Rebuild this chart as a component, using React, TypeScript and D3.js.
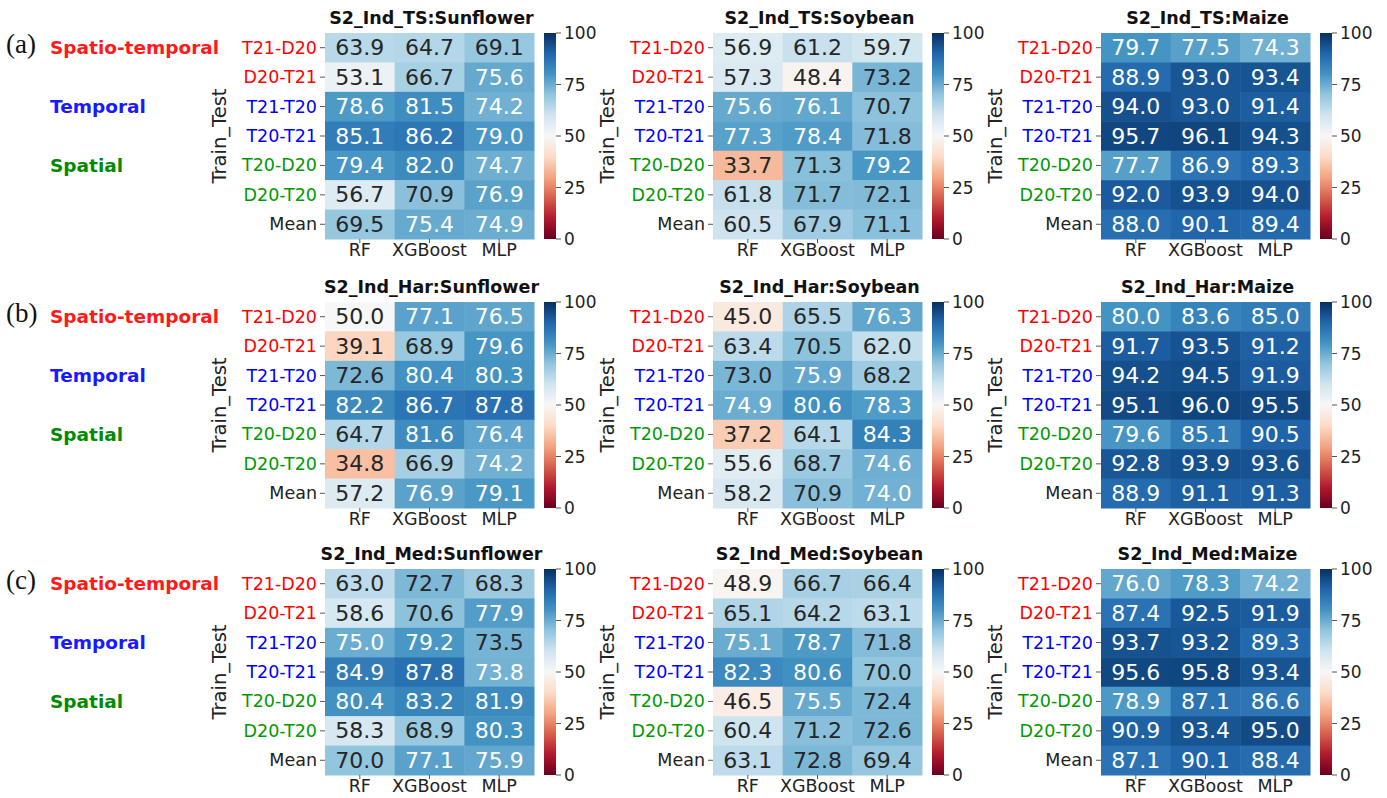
import React from "react";
import * as d3 from "d3";

const rows = ["T21-D20", "D20-T21", "T21-T20", "T20-T21", "T20-D20", "D20-T20", "Mean"];
const rowColors = ["#ff0000", "#ff0000", "#0000ff", "#0000ff", "#009a00", "#009a00", "#222222"];
const cols = ["RF", "XGBoost", "MLP"];
const cbTicks = [0, 25, 50, 75, 100];
const panelLetters = ["(a)", "(b)", "(c)"];
const groupLabels = [
  { text: "Spatio-temporal", row: 0, color: "#ff1a1a" },
  { text: "Temporal", row: 2, color: "#1a1aff" },
  { text: "Spatial", row: 4, color: "#008a00" },
];

const tsSunflower = [[63.9, 64.7, 69.1], [53.1, 66.7, 75.6], [78.6, 81.5, 74.2], [85.1, 86.2, 79.0], [79.4, 82.0, 74.7], [56.7, 70.9, 76.9], [69.5, 75.4, 74.9]];
const tsSoybean = [[56.9, 61.2, 59.7], [57.3, 48.4, 73.2], [75.6, 76.1, 70.7], [77.3, 78.4, 71.8], [33.7, 71.3, 79.2], [61.8, 71.7, 72.1], [60.5, 67.9, 71.1]];
const tsMaize = [[79.7, 77.5, 74.3], [88.9, 93.0, 93.4], [94.0, 93.0, 91.4], [95.7, 96.1, 94.3], [77.7, 86.9, 89.3], [92.0, 93.9, 94.0], [88.0, 90.1, 89.4]];
const harSunflower = [[50.0, 77.1, 76.5], [39.1, 68.9, 79.6], [72.6, 80.4, 80.3], [82.2, 86.7, 87.8], [64.7, 81.6, 76.4], [34.8, 66.9, 74.2], [57.2, 76.9, 79.1]];
const harSoybean = [[45.0, 65.5, 76.3], [63.4, 70.5, 62.0], [73.0, 75.9, 68.2], [74.9, 80.6, 78.3], [37.2, 64.1, 84.3], [55.6, 68.7, 74.6], [58.2, 70.9, 74.0]];
const harMaize = [[80.0, 83.6, 85.0], [91.7, 93.5, 91.2], [94.2, 94.5, 91.9], [95.1, 96.0, 95.5], [79.6, 85.1, 90.5], [92.8, 93.9, 93.6], [88.9, 91.1, 91.3]];
const medSunflower = [[63.0, 72.7, 68.3], [58.6, 70.6, 77.9], [75.0, 79.2, 73.5], [84.9, 87.8, 73.8], [80.4, 83.2, 81.9], [58.3, 68.9, 80.3], [70.0, 77.1, 75.9]];
const medSoybean = [[48.9, 66.7, 66.4], [65.1, 64.2, 63.1], [75.1, 78.7, 71.8], [82.3, 80.6, 70.0], [46.5, 75.5, 72.4], [60.4, 71.2, 72.6], [63.1, 72.8, 69.4]];
const medMaize = [[76.0, 78.3, 74.2], [87.4, 92.5, 91.9], [93.7, 93.2, 89.3], [95.6, 95.8, 93.4], [78.9, 87.1, 86.6], [90.9, 93.4, 95.0], [87.1, 90.1, 88.4]];

const panelTitles = [
  ["S2_Ind_TS:Sunflower", "S2_Ind_TS:Soybean", "S2_Ind_TS:Maize"],
  ["S2_Ind_Har:Sunflower", "S2_Ind_Har:Soybean", "S2_Ind_Har:Maize"],
  ["S2_Ind_Med:Sunflower", "S2_Ind_Med:Soybean", "S2_Ind_Med:Maize"],
];
const panelData = [
  [tsSunflower, tsSoybean, tsMaize],
  [harSunflower, harSoybean, harMaize],
  [medSunflower, medSoybean, medMaize],
];

const W = 1387;
const H = 798;
const colLefts = [325, 713, 1101];
const rowTops = [33, 302, 569];
const hmW = 209;
const hmH = 206;
const FONT = "DejaVu Sans, sans-serif";

const color = d3
  .scaleLinear<string>()
  .domain(d3.range(11).map((i) => i * 10))
  .range(d3.schemeRdBu[11])
  .interpolate(d3.interpolateRgb)
  .clamp(true);

function lum(c: string) {
  const rgb = d3.rgb(c);
  const f = (v: number) => {
    const s = v / 255;
    return s <= 0.03928 ? s / 12.92 : Math.pow((s + 0.055) / 1.055, 2.4);
  };
  return 0.2126 * f(rgb.r) + 0.7152 * f(rgb.g) + 0.0722 * f(rgb.b);
}

function Panel({ left, top, title, data, idx }: any) {
  const x = d3.scaleBand().domain(cols).range([left, left + hmW]);
  const y = d3.scaleBand().domain(rows).range([top, top + hmH]);
  const cbX = left + hmW + 10;
  const cbW = 12;
  const cbY = d3.scaleLinear().domain([0, 100]).range([top + hmH, top]);
  const gid = `cbgrad${idx}`;
  const stops = d3.range(11).map((i) => i * 10);
  return (
    <g>
      <defs>
        <linearGradient id={gid} x1="0" y1="1" x2="0" y2="0">
          {stops.map((s) => (
            <stop key={s} offset={`${s}%`} stopColor={color(s)} />
          ))}
        </linearGradient>
      </defs>
      <text x={left + hmW / 2 + 2} y={top - 9} textAnchor="middle" fontFamily={FONT} fontWeight="bold" fontSize={17.5} fill="#111">
        {title}
      </text>
      {rows.map((r, i) =>
        cols.map((c, j) => {
          const v = data[i][j];
          const fill = color(v);
          return (
            <g key={r + c}>
              <rect x={x(c)} y={y(r)} width={x.bandwidth() + 0.5} height={y.bandwidth() + 0.5} fill={fill} />
              <text
                x={(x(c) as number) + x.bandwidth() / 2}
                y={(y(r) as number) + y.bandwidth() / 2}
                textAnchor="middle"
                dominantBaseline="central"
                fontFamily={FONT}
                fontSize={22}
                fill={lum(fill) > 0.408 ? "#262626" : "#ffffff"}
              >
                {v.toFixed(1)}
              </text>
            </g>
          );
        })
      )}
      {rows.map((r, i) => {
        const cy = (y(r) as number) + y.bandwidth() / 2;
        return (
          <g key={"yl" + r}>
            <line x1={left - 5} x2={left} y1={cy} y2={cy} stroke="#555" strokeWidth={1} />
            <text x={left - 8} y={cy} textAnchor="end" dominantBaseline="central" fontFamily={FONT} fontSize={17.5} fill={rowColors[i]}>
              {r}
            </text>
          </g>
        );
      })}
      {cols.map((c) => {
        const cx = (x(c) as number) + x.bandwidth() / 2;
        return (
          <g key={"xl" + c}>
            <line x1={cx} x2={cx} y1={top + hmH} y2={top + hmH + 4} stroke="#555" strokeWidth={1} />
            <text x={cx} y={top + hmH + 17} textAnchor="middle" fontFamily={FONT} fontSize={17.5} fill="#222">
              {c}
            </text>
          </g>
        );
      })}
      <text
        transform={`translate(${left - 106},${top + hmH / 2}) rotate(-90)`}
        textAnchor="middle"
        dominantBaseline="central"
        fontFamily={FONT}
        fontSize={19.5}
        fill="#222"
      >
        Train_Test
      </text>
      <rect x={cbX} y={top} width={cbW} height={hmH} fill={`url(#${gid})`} />
      {cbTicks.map((t) => (
        <g key={"cb" + t}>
          <line x1={cbX + cbW} x2={cbX + cbW + 5} y1={cbY(t)} y2={cbY(t)} stroke="#555" strokeWidth={1} />
          <text x={cbX + cbW + 8} y={cbY(t)} dominantBaseline="central" fontFamily={FONT} fontSize={17} fill="#222">
            {t}
          </text>
        </g>
      ))}
    </g>
  );
}

export default function App() {
  const rowH = hmH / rows.length;
  return (
    <svg width={W} height={H} style={{ position: "absolute", left: 0, top: 0, background: "#fff" }}>
      <rect width={W} height={H} fill="#fff" />
      {rowTops.map((top, ri) => (
        <g key={"row" + ri}>
          <text x={6} y={top + rowH / 2 - 4} dominantBaseline="central" fontFamily="Liberation Serif, serif" fontSize={27} fill="#111">
            {panelLetters[ri]}
          </text>
          {groupLabels.map((g) => (
            <text
              key={g.text}
              x={50}
              y={top + rowH * g.row + rowH / 2}
              dominantBaseline="central"
              fontFamily={FONT}
              fontWeight="bold"
              fontSize={18.5}
              fill={g.color}
            >
              {g.text}
            </text>
          ))}
          {colLefts.map((left, ci) => (
            <Panel key={ci} idx={ri * 3 + ci} left={left} top={top} title={panelTitles[ri][ci]} data={panelData[ri][ci]} />
          ))}
        </g>
      ))}
    </svg>
  );
}
